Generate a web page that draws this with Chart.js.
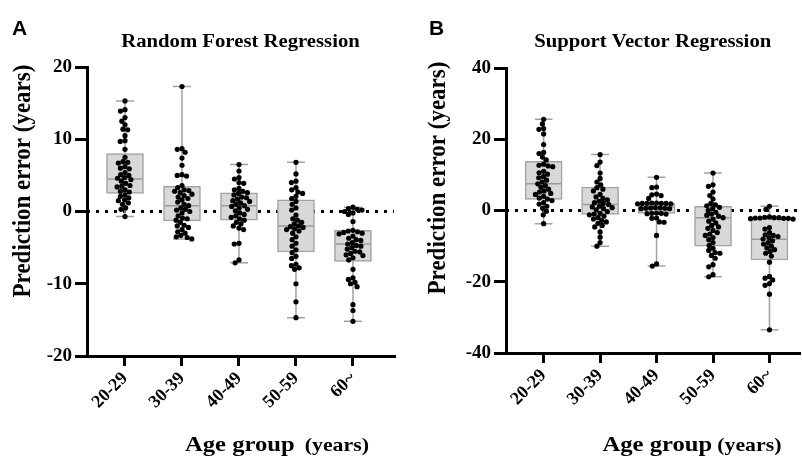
<!DOCTYPE html>
<html><head><meta charset="utf-8">
<script src="https://cdn.jsdelivr.net/npm/chart.js@4"></script>
<style>
body{margin:0;background:#fff;}
#wrap{position:relative;width:802px;height:456px;overflow:hidden;background:#fff;}
canvas{position:absolute;top:0;}
</style>
</head><body>
<div id="wrap">
<canvas id="cA" width="401" height="456" style="left:0px"></canvas>
<canvas id="cB" width="401" height="456" style="left:401px"></canvas>
</div>
<script>
// ---------- data ----------
const categories = ['20-29', '30-39', '40-49', '50-59', '60~'];
const rfYTicks = [-20, -10, 0, 10, 20];
const svrYTicks = [-40, -20, 0, 20, 40];

// Random Forest prediction errors (years) per age group
const rf_20_29 = [15.3, 14.1, 13.9, 13.0, 12.5, 12.0, 11.4, 11.3, 10.5, 9.8, 9.7, 8.6, 7.5, 6.9, 6.8, 6.7, 6.2, 6.0, 5.9, 5.4, 5.1, 5.0, 4.7, 4.6, 4.4, 4.2, 3.9, 3.6, 3.5, 3.4, 3.0, 2.8, 2.7, 2.3, 2.1, 1.9, 1.6, 1.5, 1.2, 1.0, 0.5, 0.3, -0.7];
const rf_30_39 = [17.3, 8.7, 8.6, 8.2, 7.4, 6.4, 5.1, 5.0, 4.9, 3.6, 3.3, 3.0, 2.9, 2.8, 2.6, 2.4, 2.2, 2.0, 1.8, 1.6, 1.3, 1.0, 0.8, 0.5, 0.3, 0.2, 0.0, -0.2, -0.6, -0.9, -1.0, -1.2, -1.5, -1.9, -2.0, -2.2, -2.5, -2.8, -3.0, -3.3, -3.5, -3.6, -3.8];
const rf_40_49 = [6.5, 5.6, 4.7, 4.5, 4.0, 3.9, 3.2, 3.0, 2.8, 2.6, 2.5, 2.3, 2.0, 1.9, 1.7, 1.5, 1.4, 1.2, 1.0, 0.8, 0.7, 0.5, 0.3, 0.1, -0.2, -0.4, -0.6, -0.8, -1.0, -1.2, -1.5, -1.7, -2.0, -2.3, -2.5, -4.4, -4.5, -6.7, -7.1];
const rf_50_59 = [6.8, 5.2, 4.2, 4.0, 3.3, 3.0, 2.7, 2.5, 2.1, 1.8, 1.4, 1.0, 0.5, 0.2, -0.5, -1.0, -1.2, -1.5, -1.7, -2.0, -2.1, -2.2, -2.4, -2.5, -2.7, -3.0, -3.5, -3.9, -4.4, -4.8, -5.3, -5.7, -6.2, -6.5, -7.3, -7.5, -7.8, -8.0, -10.0, -12.5, -14.7];
const rf_60 = [0.6, 0.4, 0.3, 0.2, 0.0, -0.2, -0.4, -1.4, -2.6, -2.7, -2.8, -2.9, -3.0, -3.1, -3.4, -3.7, -3.9, -4.0, -4.3, -4.5, -4.7, -4.8, -5.0, -5.2, -5.5, -5.6, -5.8, -6.0, -6.1, -6.4, -6.7, -8.0, -9.2, -9.4, -9.8, -10.0, -10.4, -12.9, -13.7, -15.2];

const rfQ1 = [2.5, -1.3, -1.2, -5.6, -6.9];
const rfMedian = [4.5, 0.8, 0.8, -2.0, -4.5];
const rfQ3 = [8.0, 3.5, 2.6, 1.6, -2.6];
const rfMin = [-0.7, -3.8, -7.1, -14.7, -15.2];
const rfMax = [15.3, 17.3, 6.5, 6.8, 0.6];

// Support Vector prediction errors (years) per age group
const svr_20_29 = [25.6, 24.3, 23.0, 22.8, 21.5, 18.5, 16.3, 16.0, 15.0, 14.2, 13.0, 12.7, 12.5, 12.3, 11.0, 10.6, 10.2, 9.5, 9.2, 8.5, 8.0, 7.5, 7.0, 6.5, 6.0, 5.5, 5.2, 4.8, 4.5, 4.0, 3.5, 3.2, 2.8, 2.2, 1.8, 1.2, 0.6, -0.2, -1.2, -3.7];
const svr_30_39 = [15.7, 13.6, 12.6, 10.5, 9.0, 8.0, 7.2, 6.4, 6.0, 5.5, 4.5, 3.8, 3.4, 3.0, 2.6, 2.2, 2.0, 1.7, 1.2, 1.0, 0.8, 0.5, 0.2, -0.3, -0.8, -1.0, -1.2, -1.6, -2.0, -2.4, -2.8, -3.2, -3.6, -4.2, -4.6, -6.0, -7.5, -9.0, -10.0];
const svr_40_49 = [9.3, 6.6, 6.4, 4.6, 4.4, 4.2, 3.4, 2.1, 2.1, 2.0, 2.0, 2.0, 2.0, 1.9, 1.9, 0.8, 0.7, 0.7, 0.6, 0.6, 0.5, 0.5, -0.7, -0.8, -0.8, -0.9, -1.0, -2.1, -2.2, -3.2, -3.3, -7.0, -15.0, -15.6];
const svr_50_59 = [10.5, 7.2, 6.8, 5.2, 4.2, 3.2, 2.0, 1.6, 1.3, 0.9, 0.5, 0.0, -0.5, -1.0, -1.3, -1.6, -2.0, -2.4, -3.0, -3.5, -4.2, -4.6, -5.0, -5.6, -6.2, -6.6, -7.0, -7.6, -8.2, -9.0, -9.8, -10.6, -11.2, -11.8, -12.0, -12.6, -13.4, -15.2, -15.8, -18.0, -18.6];
const svr_60 = [1.2, 0.3, -1.8, -1.9, -2.0, -2.0, -2.1, -2.1, -2.2, -2.2, -2.3, -2.4, -4.8, -5.2, -6.2, -6.8, -7.0, -7.3, -7.6, -8.0, -8.5, -9.0, -9.4, -10.0, -10.5, -11.0, -11.5, -12.0, -12.8, -14.5, -18.5, -19.0, -19.5, -20.5, -21.0, -23.5, -33.5];

const svrQ1 = [3.1, -1.1, -0.8, -10.0, -13.9];
const svrMedian = [7.5, 1.7, 1.0, -2.0, -8.1];
const svrQ3 = [13.8, 6.6, 2.0, 1.2, -2.3];
const svrMin = [-3.7, -10.0, -15.6, -18.6, -33.5];
const svrMax = [25.6, 15.7, 9.3, 10.5, 1.2];

// ---------- drawing ----------
const SERIF = '"Liberation Serif", "Times New Roman", serif';
const SANS = '"Liberation Sans", Arial, sans-serif';
const STRETCH = 1.12;

const textPlugin = {
  id: 'panelTexts',
  afterDraw(chart, args, t) {
    const ctx = chart.ctx, ca = chart.chartArea;
    ctx.save();
    ctx.fillStyle = '#000';
    ctx.textBaseline = 'alphabetic';
    ctx.font = 'bold 21px ' + SANS;
    ctx.textAlign = 'left';
    ctx.fillText(t.letter, t.letterX, 35);
    ctx.save();
    ctx.translate((ca.left + ca.right) / 2, 47);
    ctx.scale(STRETCH, 1);
    ctx.font = 'bold 18.5px ' + SERIF;
    ctx.textAlign = 'center';
    ctx.fillText(t.title, 0, 0);
    ctx.restore();
    ctx.save();
    ctx.translate(t.yTitleX, t.yTitleY);
    ctx.rotate(-Math.PI / 2);
    ctx.scale(1, STRETCH);
    ctx.font = 'bold 23px ' + SERIF;
    ctx.textAlign = 'center';
    ctx.textBaseline = 'middle';
    ctx.fillText('Prediction error (years)', 0, 0);
    ctx.restore();
    ctx.font = 'bold 22px ' + SERIF;
    const w1 = ctx.measureText('Age group').width * STRETCH;
    ctx.font = 'bold 19.5px ' + SERIF;
    const w2 = ctx.measureText('(years)').width * STRETCH;
    const x0 = t.xTitleX - (w1 + t.xGap + w2) / 2;
    ctx.textAlign = 'left';
    ctx.save(); ctx.translate(x0, 451); ctx.scale(STRETCH, 1);
    ctx.font = 'bold 22px ' + SERIF; ctx.fillText('Age group', 0, 0); ctx.restore();
    ctx.save(); ctx.translate(x0 + w1 + t.xGap, 451); ctx.scale(STRETCH, 1);
    ctx.font = 'bold 19.5px ' + SERIF; ctx.fillText('(years)', 0, 0); ctx.restore();
    ctx.restore();
  }
};

function buildPanel(id, P) {
  const canvas = document.getElementById(id);
  const W = canvas.width, H = canvas.height;
  const A = P.area;
  const yMin = P.yTicks[0], yMax = P.yTicks[P.yTicks.length - 1];
  const pxX = (A.right - A.left) / (P.xMax - P.xMin);
  const pxY = (A.bottom - A.top) / (yMax - yMin);
  const D = 4.8;

  // beeswarm layout of the points (horizontal spreading only)
  const swarm = [];
  P.groups.forEach((vals, gi) => {
    const placed = [];
    vals.slice().sort((a, b) => b - a).forEach(v => {
      const py = v * pxY;
      const forb = [];
      placed.forEach(p => {
        const dy = Math.abs(p.py - py);
        if (dy < D) { const w = Math.sqrt(D * D - dy * dy); forb.push([p.px - w, p.px + w]); }
      });
      const cands = [0];
      forb.forEach(f => cands.push(f[0], f[1]));
      cands.sort((a, b) => Math.abs(a) - Math.abs(b) || a - b);
      const px = cands.find(c => forb.every(f => c <= f[0] + 1e-6 || c >= f[1] - 1e-6));
      placed.push({ px, py });
      swarm.push({ x: gi + px / pxX, y: v });
    });
  });

  const hb = 17.5 / pxX, hc = 9 / pxX;
  const boxes = categories.map((c, i) => ({ x: i, y: [P.q1[i], P.q3[i]] }));
  const medians = [], whiskers = [];
  categories.forEach((c, i) => {
    medians.push({ x: i - hb, y: P.med[i] }, { x: i + hb, y: P.med[i] }, { x: i, y: null });
    whiskers.push(
      { x: i, y: P.min[i] }, { x: i, y: P.q1[i] }, { x: i, y: null },
      { x: i, y: P.q3[i] }, { x: i, y: P.max[i] }, { x: i, y: null },
      { x: i - hc, y: P.max[i] }, { x: i + hc, y: P.max[i] }, { x: i, y: null },
      { x: i - hc, y: P.min[i] }, { x: i + hc, y: P.min[i] }, { x: i, y: null });
  });

  const lineBase = { type: 'line', pointRadius: 0, pointHoverRadius: 0, tension: 0, fill: false, spanGaps: false };

  return new Chart(canvas, {
    type: 'scatter',
    data: {
      datasets: [
        { type: 'scatter', data: swarm, pointRadius: 2.6, pointHoverRadius: 2.6, backgroundColor: '#000', borderWidth: 0, order: 0 },
        Object.assign({}, lineBase, { data: medians, borderColor: '#9a9a9a', borderWidth: 1.5, order: 1 }),
        { type: 'bar', data: boxes, backgroundColor: '#d8d8d8', borderColor: '#a2a2a2', borderWidth: 1.5, borderSkipped: false, barThickness: 37, order: 2 },
        Object.assign({}, lineBase, { data: whiskers, borderColor: '#a2a2a2', borderWidth: 1.5, order: 3 }),
        Object.assign({}, lineBase, { data: [{ x: P.xMin, y: 0 }, { x: P.xMax, y: 0 }], borderColor: '#000', borderWidth: 3, borderDash: [3, 6], order: 4 })
      ]
    },
    options: {
      responsive: false,
      animation: false,
      events: [],
      layout: { padding: { left: 0, top: A.top, right: W - A.right, bottom: 0 } },
      plugins: {
        legend: { display: false },
        tooltip: { enabled: false },
        panelTexts: P.texts
      },
      scales: {
        x: {
          type: 'linear', min: P.xMin, max: P.xMax, offset: false,
          afterBuildTicks: s => { s.ticks = categories.map((c, i) => ({ value: i })); },
          afterFit: s => { s.height = H - A.bottom; },
          ticks: {
            autoSkip: false, minRotation: 45, maxRotation: 45, padding: 2, color: '#000',
            font: { family: SERIF, weight: 'bold', size: 18 },
            callback: v => categories[v]
          },
          grid: { display: true, offset: false, drawOnChartArea: false, drawTicks: true, tickLength: 10, lineWidth: 3, color: '#000' },
          border: { display: true, width: 3, color: '#000' }
        },
        y: {
          type: 'linear', min: yMin, max: yMax, offset: false,
          afterBuildTicks: s => { s.ticks = P.yTicks.map(v => ({ value: v })); },
          afterFit: s => { s.width = A.left; },
          ticks: { padding: 3, color: '#000', font: { family: SERIF, weight: 'bold', size: 19 } },
          grid: { display: true, offset: false, drawOnChartArea: false, drawTicks: true, tickLength: 12, lineWidth: 3, color: '#000' },
          border: { display: true, width: 3, color: '#000' }
        }
      }
    },
    plugins: [textPlugin]
  });
}

buildPanel('cA', {
  area: { left: 87, top: 67, right: 394, bottom: 356 },
  xMin: -0.6667, xMax: 4.72,
  yTicks: rfYTicks,
  groups: [rf_20_29, rf_30_39, rf_40_49, rf_50_59, rf_60],
  q1: rfQ1, med: rfMedian, q3: rfQ3, min: rfMin, max: rfMax,
  texts: { letter: 'A', letterX: 12, title: 'Random Forest Regression', yTitleX: 23, yTitleY: 181, xTitleX: 277, xGap: 10 }
});
buildPanel('cB', {
  area: { left: 105, top: 68, right: 401, bottom: 353 },
  xMin: -0.6667, xMax: 4.53,
  yTicks: svrYTicks,
  groups: [svr_20_29, svr_30_39, svr_40_49, svr_50_59, svr_60],
  q1: svrQ1, med: svrMedian, q3: svrQ3, min: svrMin, max: svrMax,
  texts: { letter: 'B', letterX: 28, title: 'Support Vector Regression', yTitleX: 37, yTitleY: 178, xTitleX: 291, xGap: 5 }
});
</script>
</body></html>
